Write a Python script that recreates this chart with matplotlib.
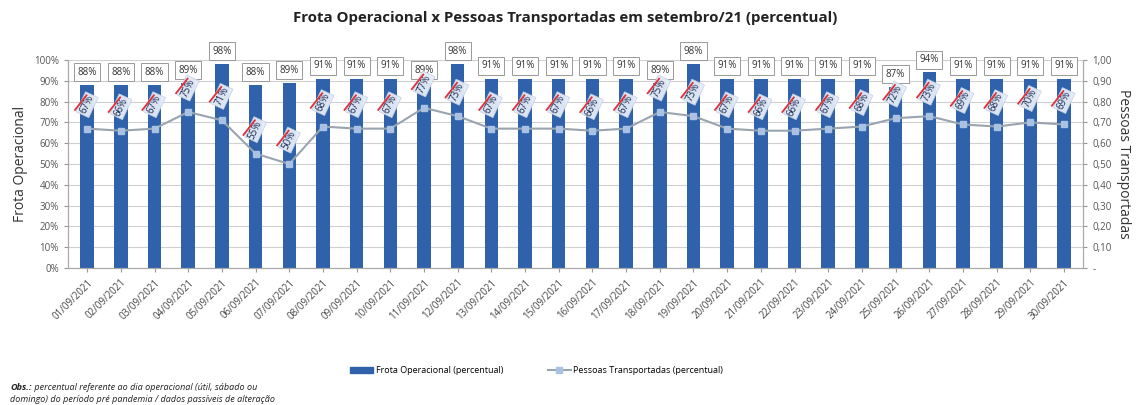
import matplotlib
matplotlib.use("Agg")
import matplotlib.pyplot as plt
from matplotlib.lines import Line2D
from matplotlib.patches import Patch
import numpy as np

days = [f"{d:02d}/09/2021" for d in range(1, 31)]
frota = [88, 88, 88, 89, 98, 88, 89, 91, 91, 91, 89, 98, 91, 91, 91,
         91, 91, 89, 98, 91, 91, 91, 91, 91, 87, 94, 91, 91, 91, 91]
pessoas = [0.67, 0.66, 0.67, 0.75, 0.71, 0.55, 0.50, 0.68, 0.67, 0.67,
           0.77, 0.73, 0.67, 0.67, 0.67, 0.66, 0.67, 0.75, 0.73, 0.67,
           0.66, 0.66, 0.67, 0.68, 0.72, 0.73, 0.69, 0.68, 0.70, 0.69]
left_ticks = list(range(0, 101, 10))
right_ticks = [round(0.1 * i, 2) for i in range(0, 11)]

plt.rcParams['font.family'] = ['Open Sans', 'DejaVu Sans']

fig = plt.figure(figsize=(11.42, 4.05), dpi=100)
ax = fig.add_axes([0.0595, 0.338, 0.889, 0.514])
ax2 = ax.twinx()

x = np.arange(len(days))
bar_color = "#2f62ab"
ax.bar(x, frota, width=0.4, color=bar_color, zorder=2)
ax.set_ylim(0, 100)
ax.set_xlim(-0.57, len(days) - 0.43)
ax.set_yticks(left_ticks)
ax.set_yticklabels([f"{t}%" for t in left_ticks], fontsize=7, color="#555555")
ax.set_xticks(x)
ax.set_xticklabels(days, rotation=45, ha="right", rotation_mode="anchor",
                   fontsize=7, color="#444444")
ax.grid(axis="y", color="#d0d0d0", linewidth=0.8, zorder=0)
ax.set_axisbelow(True)
ax.tick_params(axis="both", length=3, color="#999999")
ax.spines["top"].set_visible(False)
for s in ["left", "bottom", "right"]:
    ax.spines[s].set_color("#aaaaaa")
ax.set_ylabel("Frota Operacional", fontsize=10, color="#333333", labelpad=4)

for xi, v in zip(x, frota):
    ax.text(xi, v + 3.5, f"{v}%", ha="center", va="bottom", fontsize=7,
            color="#333333", clip_on=False, zorder=5,
            bbox=dict(boxstyle="square,pad=0.35", fc="white", ec="#999999", lw=0.7))

ax2.plot(x, pessoas, color="#9aa3b0", linewidth=1.5, marker="s", markersize=4,
         markerfacecolor="#a9c1e2", markeredgecolor="#a9c1e2", zorder=3)
ax2.set_ylim(0, 1.0)
ax2.set_yticks(right_ticks)
ax2.set_yticklabels(["-"] + [f"{t:.2f}".replace(".", ",") for t in right_ticks[1:]],
                    fontsize=7, color="#555555")
ax2.tick_params(axis="y", length=3, color="#999999")
ax2.spines["top"].set_visible(False)
for s in ["left", "bottom", "right"]:
    ax2.spines[s].set_color("#aaaaaa")
ax2.set_ylabel("Pessoas Transportadas", fontsize=10, color="#333333",
               rotation=270, labelpad=14)

for xi, v in zip(x, pessoas):
    ax2.text(xi, v + 0.115, f"{round(v*100)}%", ha="center", va="center",
             rotation=65, fontsize=7, color="#1a2a50", zorder=6,
             bbox=dict(boxstyle="square,pad=0.15", fc="#e4ecf8", ec="#c0cce0",
                       lw=0.5, alpha=0.95))
    ax2.plot([xi - 0.36, xi - 0.02], [v + 0.09, v + 0.16], color="#e0303a",
             linewidth=1.3, zorder=7)

fig.text(0.495, 0.955, "Frota Operacional x Pessoas Transportadas em setembro/21 (percentual)",
         ha="center", va="center", fontsize=10.8, fontweight="bold", color="#222222")

handles = [Patch(facecolor=bar_color, edgecolor=bar_color),
           Line2D([0], [0], color="#9aa3b0", linewidth=1.5, marker="s", markersize=4,
                  markerfacecolor="#a9c1e2", markeredgecolor="#a9c1e2")]
fig.legend(handles, ["Frota Operacional (percentual)", "Pessoas Transportadas (percentual)"],
           loc="center", bbox_to_anchor=(0.47, 0.085), ncol=2, frameon=False,
           fontsize=6.5, handlelength=2.5, columnspacing=5, handletextpad=0.3)

obs = fig.text(0.009, 0.043, "Obs.:", fontsize=6.5, fontstyle="italic", fontweight="bold",
               color="#222222", va="center")
fig.canvas.draw()
ax.annotate(" percentual referente ao dia operacional (útil, sábado ou",
            xy=(1, 0.5), xycoords=obs, va="center", ha="left",
            fontsize=6.5, fontstyle="italic", color="#222222", annotation_clip=False)
fig.text(0.009, 0.013, "domingo) do período pré pandemia / dados passíveis de alteração",
         fontsize=6.5, fontstyle="italic", color="#222222", va="center")

fig.savefig("out.png", dpi=100)
